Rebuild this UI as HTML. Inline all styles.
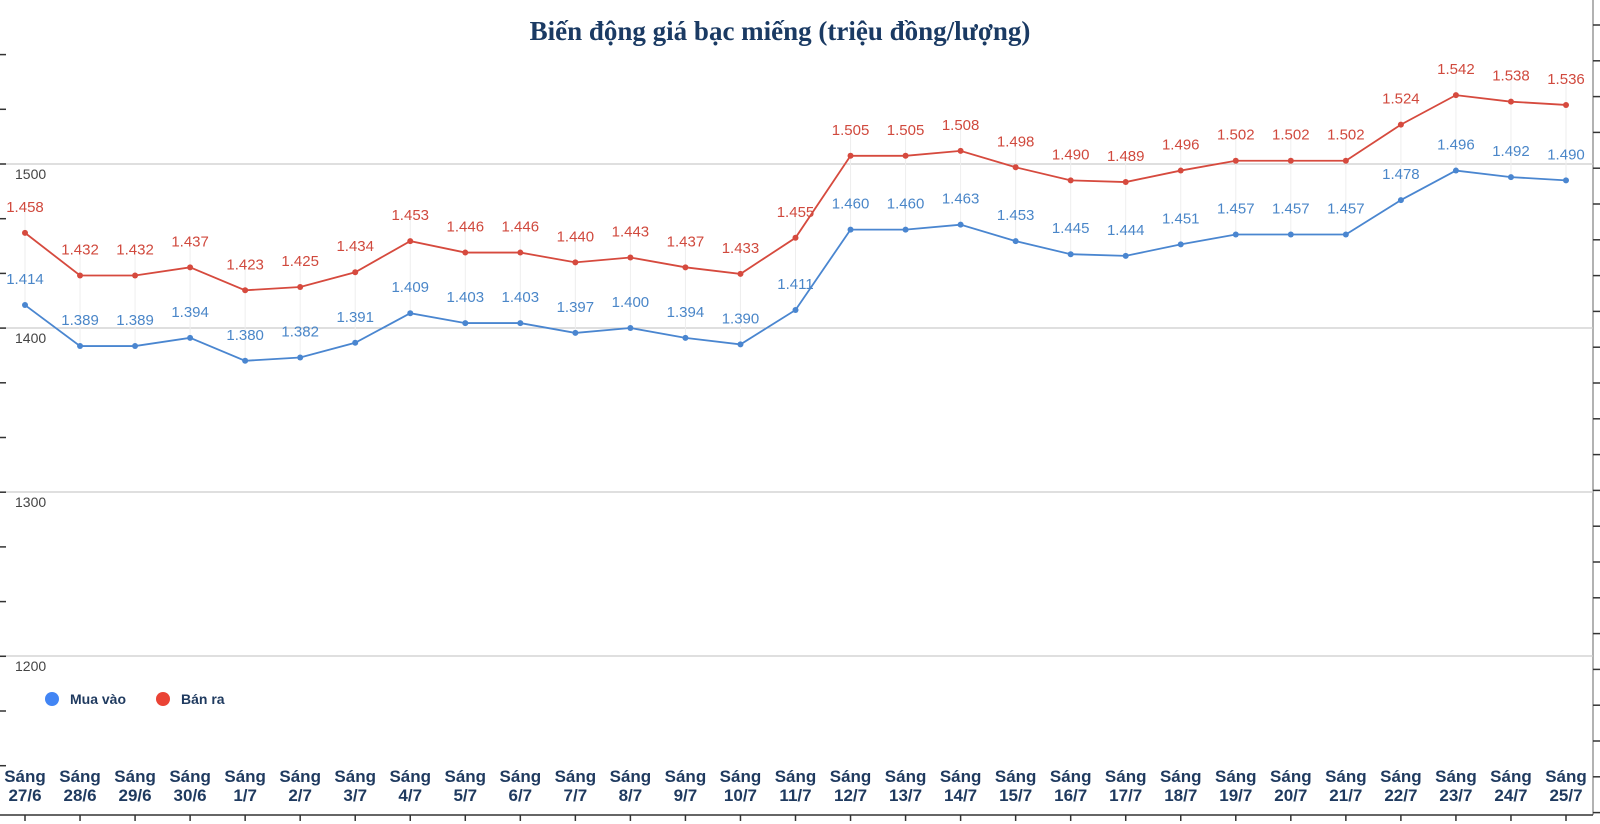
<!DOCTYPE html>
<html><head><meta charset="utf-8"><style>
html,body{margin:0;padding:0;background:#fff;}
svg{display:block;font-family:"Liberation Sans",sans-serif;}
</style></head><body>
<svg id="chart" width="1600" height="824" viewBox="0 0 1600 824">
<text x="780" y="40" text-anchor="middle" font-family="Liberation Serif,serif" font-weight="bold" font-size="27" fill="#1a3a63">Biến động giá bạc miếng (triệu đồng/lượng)</text>
<line x1="1593" y1="0" x2="1593" y2="815" stroke="#999" stroke-width="1.5"/>
<line x1="0" y1="815" x2="1593" y2="815" stroke="#333" stroke-width="1.5"/>
<g id="grid"></g><g id="marks"></g>
<g>
<circle cx="52" cy="699" r="7" fill="#4285f4"/>
<text x="70" y="704" font-size="14" font-weight="bold" fill="#1f3a5f">Mua vào</text>
<circle cx="163" cy="699" r="7" fill="#ea4335"/>
<text x="181" y="704" font-size="14" font-weight="bold" fill="#1f3a5f">Bán ra</text>
</g>
</svg>
<script>
const dates=["27/6","28/6","29/6","30/6","1/7","2/7","3/7","4/7","5/7","6/7","7/7","8/7","9/7","10/7","11/7","12/7","13/7","14/7","15/7","16/7","17/7","18/7","19/7","20/7","21/7","22/7","23/7","24/7","25/7"];
const sellValues=[1458,1432,1432,1437,1423,1425,1434,1453,1446,1446,1440,1443,1437,1433,1455,1505,1505,1508,1498,1490,1489,1496,1502,1502,1502,1524,1542,1538,1536];
const buyValues=[1414,1389,1389,1394,1380,1382,1391,1409,1403,1403,1397,1400,1394,1390,1411,1460,1460,1463,1453,1445,1444,1451,1457,1457,1457,1478,1496,1492,1490];
const yTicks=[1500,1400,1300,1200];
const NS="http://www.w3.org/2000/svg";
const x=i=>25+i*(1541/(dates.length-1));
const y=v=>164+(1500-v)*1.64;
const grid=document.getElementById('grid'),marks=document.getElementById('marks');
function mk(tag,attrs,parent){const e=document.createElementNS(NS,tag);for(const k in attrs)e.setAttribute(k,attrs[k]);parent.appendChild(e);return e;}
yTicks.forEach(t=>{
 const l=mk('line',{x1:0,x2:1593,y1:y(t),y2:y(t),stroke:'#ccc','stroke-width':1.2},grid);
 
 
 const tx=mk('text',{x:15,y:y(t)+15,'font-size':14,fill:'#444'},grid);tx.textContent=t;
 
 
});
for(let k=0;k<15;k++){const ty=164-54.7*3+k*54.7;if(ty>0&&ty<815){const l=mk('line',{x1:0,x2:6,y1:ty,y2:ty,stroke:'#333','stroke-width':1.5},grid);
 
 }}
for(let k=0;k<23;k++){const ty=25+k*35.8;if(ty<815){const l=mk('line',{x1:1593,x2:1600,y1:ty,y2:ty,stroke:'#333','stroke-width':1.5},grid);
 
 }}
dates.forEach((d,i)=>{
 const vl=mk('line',{x1:x(i),x2:x(i),y1:y(sellValues[i])-22,y2:y(buyValues[i]),stroke:'#eee','stroke-width':1},grid);
 
 
 const t=mk('text',{x:x(i),y:782,'text-anchor':'middle','font-size':17,'font-weight':'bold',fill:'#1f3a5f'},grid);
 
 
 mk('tspan',{x:x(i)},t).textContent='Sáng';
 mk('tspan',{x:x(i),dy:19},t).textContent=d;
 const tk=mk('line',{x1:x(i),x2:x(i),y1:815,y2:821,stroke:'#333','stroke-width':1.5},grid);
 
 
});
function series(vals,color,lblColor,name){
 const p=mk('polyline',{points:vals.map((v,i)=>x(i)+','+y(v)).join(' '),fill:'none',stroke:color,'stroke-width':1.8},marks);
 
 
 vals.forEach((v,i)=>{
  const c=mk('circle',{cx:x(i),cy:y(v),r:3,fill:color},marks);
  
  
  const t=mk('text',{x:x(i),y:y(v)-21,'text-anchor':'middle','font-size':15,fill:lblColor},marks);
  t.textContent=(v/1000).toFixed(3);
  
  
 });
}
series(sellValues,'#d64a3e','#d0493d','sell');
series(buyValues,'#4a86d0','#4a86c8','buy');
</script>
</body></html>
